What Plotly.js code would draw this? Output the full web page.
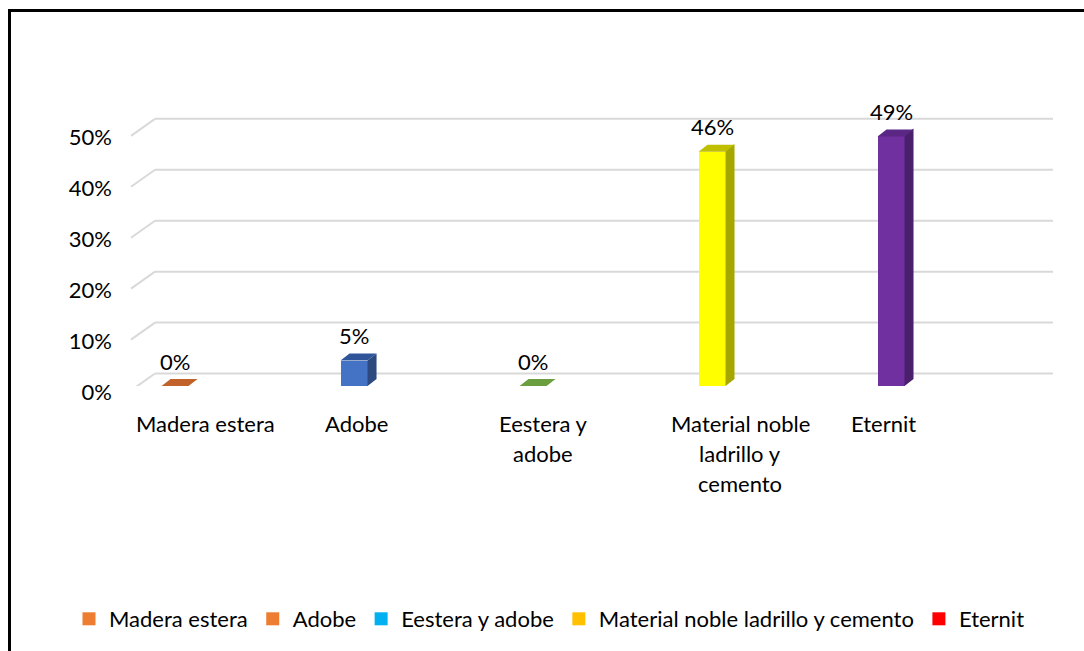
<!DOCTYPE html>
<html>
<head>
<meta charset="utf-8">
<script src="https://cdn.plot.ly/plotly-3.0.1.min.js"></script>
<style>
  html, body { margin: 0; padding: 0; background: #fff; }
  #wrap { position: relative; width: 1084px; height: 651px; overflow: hidden; }
  #chart { width: 1084px; height: 651px; }
  #frame { position: absolute; left: 8px; top: 9px; width: 1200px; height: 800px;
           border-top: 3px solid #000; border-left: 3px solid #000; pointer-events: none; }
</style>
</head>
<body>
<div id="wrap"><div id="chart"></div><div id="frame"></div></div>
<script>
// ---- data ----
const categories = ["Madera estera", "Adobe", "Eestera y adobe", "Material noble ladrillo y cemento", "Eternit"];
const values = [0, 5, 0, 46, 49];
const tickLines = [["Madera estera"], ["Adobe"], ["Eestera y", "adobe"], ["Material noble", "ladrillo y", "cemento"], ["Eternit"]];
const yTicks = [0, 10, 20, 30, 40, 50];
const yTickText = ["0%", "10%", "20%", "30%", "40%", "50%"];
const legendNames = ["Madera estera", "Adobe", "Eestera y adobe", "Material noble ladrillo y cemento", "Eternit"];

// ---- styles ----
const frontColors = ["#ED7D31", "#4472C4", "#70AD47", "#FFFF00", "#7030A0"];
const topColors   = ["#C0622A", "#30549A", "#6A9E3E", "#BFBF00", "#5A2785"];
const sideColors  = ["#A04F1E", "#2C4A80", "#507A30", "#A6A600", "#4A1F6B"];
const legendColors = ["#ED7D31", "#ED7D31", "#00B0F0", "#FFC000", "#FF0000"];
const labelShift = [30, 2, 10, 28, -8];

const FONT = "Lato, 'Open Sans', sans-serif";
const FS = 22;
const W = 1084, H = 651;
const M = { l: 155, r: 31, t: 111, b: 264 };
const yRange = [0, 54];
const xRange = [-0.112, 4.905];
const plotW = W - M.l - M.r, plotH = H - M.t - M.b;
const PPU = plotH / (yRange[1] - yRange[0]);          // px per y unit
const PPX = plotW / (xRange[1] - xRange[0]);          // px per x unit
const barPx = 27, dx = 9, dy = 7, hw = barPx / 2;
const gridLift = 12.5;

const xIdx = categories.map((c, i) => i);

const traces = [{
  type: "bar",
  x: xIdx,
  y: values,
  width: barPx / PPX,
  marker: { color: frontColors, line: { width: 0 } },
  showlegend: false,
  hoverinfo: "skip"
}];

legendNames.forEach((n, i) => {
  traces.push({
    type: "scatter", mode: "markers", x: [null], y: [null],
    name: n, marker: { symbol: "square", size: 13, color: legendColors[i] },
    showlegend: true, hoverinfo: "skip"
  });
});

const shapes = [];
yTicks.forEach(t => {
  shapes.push({ type: "line", layer: "below", xref: "paper", x0: 0, x1: 1,
    yref: "y", ysizemode: "pixel", yanchor: t, y0: gridLift, y1: gridLift,
    line: { color: "#D9D9D9", width: 2 } });
  shapes.push({ type: "line", layer: "below", xref: "paper", x0: -24 / plotW, x1: 0,
    yref: "y", ysizemode: "pixel", yanchor: t, y0: -4.5, y1: gridLift,
    line: { color: "#D9D9D9", width: 2 } });
});

values.forEach((v, i) => {
  const h = v * PPU;
  shapes.push({ type: "path", layer: "above", xref: "x", yref: "y",
    xsizemode: "pixel", ysizemode: "pixel", xanchor: i, yanchor: 0,
    path: `M${hw},0 L${hw + dx},${dy} L${hw + dx},${h + dy} L${hw},${h} Z`,
    fillcolor: sideColors[i], line: { width: 0 } });
  shapes.push({ type: "path", layer: "above", xref: "x", yref: "y",
    xsizemode: "pixel", ysizemode: "pixel", xanchor: i, yanchor: v,
    path: `M${-hw},0 L${-hw + dx},${dy} L${hw + dx},${dy} L${hw},0 Z`,
    fillcolor: topColors[i], line: { width: 0 } });
});

const annotations = [];
values.forEach((v, i) => {
  annotations.push({ x: i, y: v, xref: "x", yref: "y", text: v + "%",
    showarrow: false, yshift: 25, yanchor: "middle", xanchor: "center",
    font: { family: FONT, size: FS, color: "#000" } });
});
tickLines.forEach((lines, i) => {
  lines.forEach((ln, k) => {
    annotations.push({ x: i, y: 0, xref: "x", yref: "y", text: ln,
      showarrow: false, xanchor: "center", yanchor: "middle",
      xshift: labelShift[i], yshift: -37 - 30 * k,
      font: { family: FONT, size: FS, color: "#000" } });
  });
});

const layout = {
  width: W, height: H,
  margin: M,
  paper_bgcolor: "#fff", plot_bgcolor: "rgba(0,0,0,0)",
  font: { family: FONT, size: FS, color: "#000" },
  xaxis: { range: xRange, showgrid: false, zeroline: false, showline: false,
           showticklabels: false, ticks: "", fixedrange: true },
  yaxis: { range: yRange, showgrid: false, zeroline: false, showline: false,
           tickmode: "array", tickvals: yTicks, ticktext: yTickText, ticks: "",
           ticklabelstandoff: 42, ticklabelshift: 6,
           tickfont: { family: FONT, size: FS, color: "#000" }, fixedrange: true },
  showlegend: true,
  legend: { orientation: "h", xref: "paper", yref: "paper",
            x: (69 - M.l) / plotW, y: (H - M.b - 619) / plotH, xanchor: "left", yanchor: "middle",
            font: { family: FONT, size: FS, color: "#000" },
            itemclick: false, itemdoubleclick: false, tracegroupgap: 0 },
  shapes: shapes,
  annotations: annotations,
  bargap: 0
};

Plotly.newPlot("chart", traces, layout, { displayModeBar: false, staticPlot: true });
</script>
</body>
</html>
